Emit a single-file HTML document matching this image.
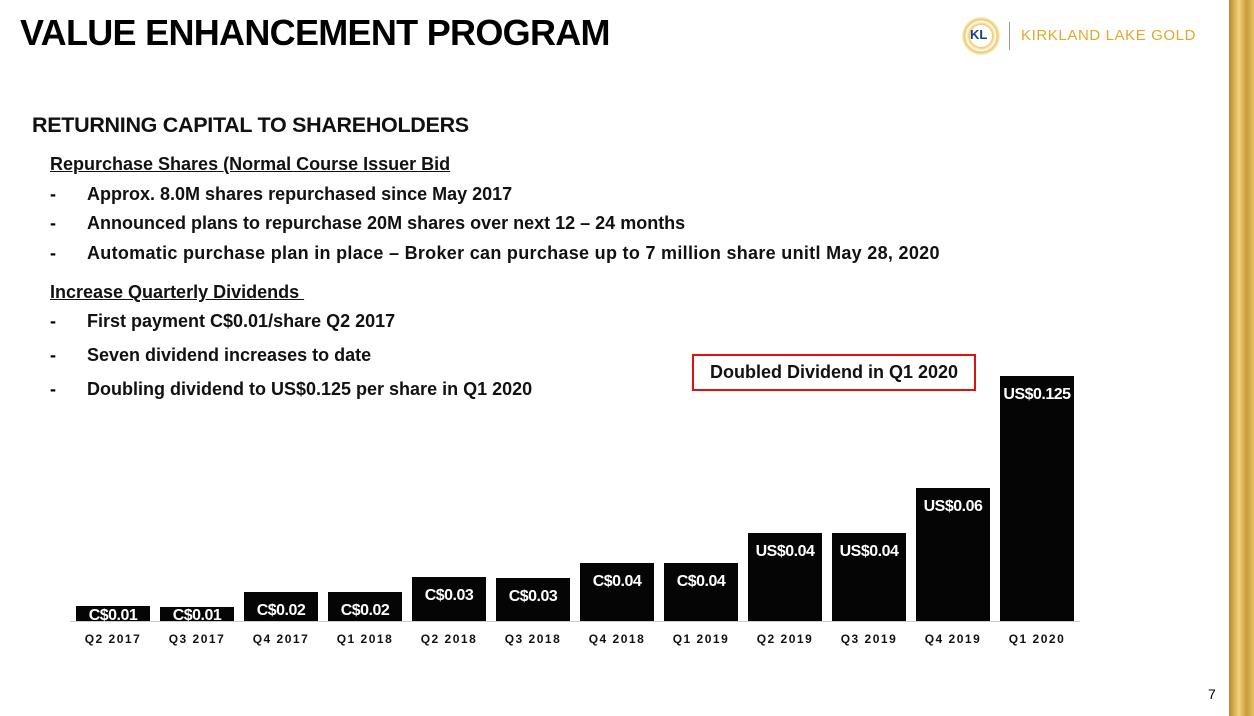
<!DOCTYPE html>
<html><head><meta charset="utf-8"><style>
body{margin:0;width:1254px;height:716px;background:#fff;position:relative;overflow:hidden;font-family:"Liberation Sans",sans-serif;}
.abs{position:absolute;}
h1{position:absolute;left:20px;top:12px;margin:0;font-size:36px;font-weight:bold;letter-spacing:-0.7px;color:#000;}
.t{position:absolute;font-size:18px;font-weight:bold;color:#111;white-space:nowrap;}
.d{position:absolute;left:50px;font-size:18px;font-weight:bold;}
.u{text-decoration:underline;}
</style></head><body>
<div class="abs" style="left:1229px;top:0;width:25px;height:716px;background:linear-gradient(90deg,#b8892a,#f3d37a 40%,#c99a3a 70%,#e7c168);"></div>
<h1>VALUE ENHANCEMENT PROGRAM</h1>
<div class="abs" style="left:962px;top:17px;width:38px;height:38px;border-radius:50%;background:radial-gradient(circle,#fff 40%,#f0c860 42%,#fff 55%,#f0c860 60%,#fff 75%);"></div>
<div class="abs" style="left:970px;top:27px;font-size:13px;font-weight:bold;color:#1d3a7a;">KL</div>
<div class="abs" style="left:1009px;top:22px;width:1px;height:28px;background:#999;"></div>
<div class="abs" style="left:1021px;top:27px;font-size:15px;letter-spacing:0.6px;color:#e0a92e;">KIRKLAND LAKE GOLD</div>
<div class="t" style="left:32px;top:113px;font-size:21.5px;letter-spacing:-0.3px;">RETURNING CAPITAL TO SHAREHOLDERS</div>
<div class="t u" style="left:50px;top:154px;">Repurchase Shares (Normal Course Issuer Bid</div>
<div class="d" style="top:184px">-</div><div class="t" style="left:87px;top:184px;">Approx. 8.0M shares repurchased since May 2017</div>
<div class="d" style="top:213px">-</div><div class="t" style="left:87px;top:213px;">Announced plans to repurchase 20M shares over next 12 – 24 months</div>
<div class="d" style="top:243px">-</div><div class="t" style="left:87px;top:243px;letter-spacing:0.3px;">Automatic purchase plan in place – Broker can purchase up to 7 million share unitl May 28, 2020</div>
<div class="t u" style="left:50px;top:282px;">Increase Quarterly Dividends&nbsp;</div>
<div class="d" style="top:311px">-</div><div class="t" style="left:87px;top:311px;">First payment C$0.01/share Q2 2017</div>
<div class="d" style="top:345px">-</div><div class="t" style="left:87px;top:345px;">Seven dividend increases to date</div>
<div class="d" style="top:379px">-</div><div class="t" style="left:87px;top:379px;">Doubling dividend to US$0.125 per share in Q1 2020</div>
<div class="t" style="left:692px;top:354px;width:284px;height:37px;border:2px solid #e01010;box-sizing:border-box;line-height:33px;text-align:center;">Doubled Dividend in Q1 2020</div>
<div class="abs" style="left:1208px;top:686px;font-size:14px;">7</div>
<svg class="abs" style="left:0;top:0" width="1254" height="716" id="chart"></svg>
<script>
const categories=["Q2 2017","Q3 2017","Q4 2017","Q1 2018","Q2 2018","Q3 2018","Q4 2018","Q1 2019","Q2 2019","Q3 2019","Q4 2019","Q1 2020"];
const barHeights=[15,14,29,29,44,43,58,58,88,88,133,245];
const valueLabels=["C$0.01","C$0.01","C$0.02","C$0.02","C$0.03","C$0.03","C$0.04","C$0.04","US$0.04","US$0.04","US$0.06","US$0.125"];
const NS="http://www.w3.org/2000/svg";
const svg=document.getElementById('chart');
const baseY=621,x0=76,step=84,bw=74;
const xPos=i=>x0+i*step;
const yPos=v=>baseY-v;
const base=document.createElementNS(NS,'line');
base.setAttribute('x1',70);base.setAttribute('x2',1080);base.setAttribute('y1',baseY+0.5);base.setAttribute('y2',baseY+0.5);base.setAttribute('stroke','#ccc');


svg.appendChild(base);
categories.forEach((c,i)=>{
  const r=document.createElementNS(NS,'rect');
  r.setAttribute('x',xPos(i));r.setAttribute('y',yPos(barHeights[i]));r.setAttribute('width',bw);r.setAttribute('height',barHeights[i]);r.setAttribute('fill','#050505');
  
  
  svg.appendChild(r);
  const t=document.createElementNS(NS,'text');
  t.setAttribute('x',xPos(i)+bw/2);t.setAttribute('y',Math.min(yPos(barHeights[i])+23,baseY-1));
  t.setAttribute('text-anchor','middle');t.setAttribute('fill','#fff');t.setAttribute('font-size','16');t.setAttribute('font-weight','bold');t.setAttribute('letter-spacing','-0.5');t.setAttribute('font-family','Liberation Sans, sans-serif');
  t.textContent=valueLabels[i];
  
  
  svg.appendChild(t);
  const l=document.createElementNS(NS,'text');
  l.setAttribute('x',xPos(i)+bw/2);l.setAttribute('y',643);
  l.setAttribute('text-anchor','middle');l.setAttribute('fill','#111');l.setAttribute('font-size','12');l.setAttribute('font-weight','bold');l.setAttribute('letter-spacing','1.5');l.setAttribute('font-family','Liberation Sans, sans-serif');
  l.textContent=c;
  
  
  svg.appendChild(l);
});
</script>
</body></html>
